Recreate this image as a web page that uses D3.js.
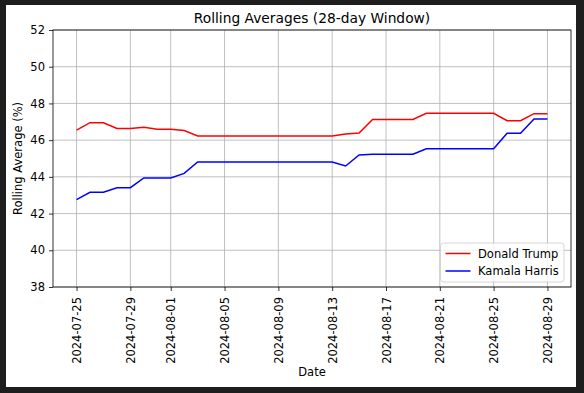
<!DOCTYPE html>
<html>
<head>
<meta charset="utf-8">
<script src="https://cdn.jsdelivr.net/npm/d3@7"></script>
<style>
  html, body { margin: 0; padding: 0; background: #1e1e1e; }
  svg { display: block; }
  text { font-family: "DejaVu Sans", sans-serif; fill: #000; }
</style>
</head>
<body>
<svg id="chart"></svg>
<script>
const dates = d3.timeDays(new Date(2024, 6, 25), new Date(2024, 7, 30))
const trump = [46.55, 46.95, 46.95, 46.64, 46.64, 46.70, 46.59, 46.59, 46.52, 46.23,
  46.23, 46.23, 46.23, 46.23, 46.23, 46.23, 46.23, 46.23, 46.23, 46.23,
  46.33, 46.39, 47.13, 47.13, 47.13, 47.13, 47.46, 47.46, 47.46, 47.46,
  47.46, 47.46, 47.06, 47.06, 47.44, 47.44]
const harris = [42.76, 43.16, 43.16, 43.41, 43.41, 43.94, 43.94, 43.94, 44.19, 44.81,
  44.81, 44.81, 44.81, 44.81, 44.81, 44.81, 44.81, 44.81, 44.81, 44.81,
  44.59, 45.19, 45.23, 45.23, 45.23, 45.23, 45.53, 45.53, 45.53, 45.53,
  45.53, 45.53, 46.37, 46.37, 47.15, 47.15]
const yTicks = [38, 40, 42, 44, 46, 48, 50, 52]
const xTickDates = ['2024-07-25', '2024-07-29', '2024-08-01', '2024-08-05', '2024-08-09',
  '2024-08-13', '2024-08-17', '2024-08-21', '2024-08-25', '2024-08-29']
const seriesNames = ['Donald Trump', 'Kamala Harris']
const seriesColors = ['#ff0000', '#0000ff']

const width = 584, height = 393
const margin = { top: 30, right: 13, bottom: 106, left: 53 }
const svg = d3.select('#chart').attr('width', width).attr('height', height)

svg.append('rect').attr('x', 6).attr('y', 5).attr('width', 570).attr('height', 382).attr('fill', '#fff')

const parse = d3.timeParse('%Y-%m-%d')
const fmt = d3.timeFormat('%Y-%m-%d')
const span = dates[dates.length - 1] - dates[0]
const x = d3.scaleTime()
  .domain([new Date(+dates[0] - span * 0.05), new Date(+dates[dates.length - 1] + span * 0.05)])
  .range([margin.left, width - margin.right])
const y = d3.scaleLinear().domain([38, 52]).range([height - margin.bottom, margin.top])

const plotW = width - margin.right - margin.left
const plotH = height - margin.bottom - margin.top

// grid
const grid = svg.append('g').attr('stroke', '#b0b0b0').attr('stroke-width', 0.8)
grid.selectAll('.gx').data(xTickDates).enter().append('line')
  .attr('x1', d => x(parse(d))).attr('x2', d => x(parse(d)))
  .attr('y1', margin.top).attr('y2', height - margin.bottom)
grid.selectAll('.gy').data(yTicks).enter().append('line')
  .attr('x1', margin.left).attr('x2', width - margin.right)
  .attr('y1', d => y(d)).attr('y2', d => y(d))

// lines
const line = d3.line().x((d, i) => x(dates[i])).y(d => y(d))
;[trump, harris].forEach((vals, i) => {
  svg.append('path').datum(vals)
    .attr('fill', 'none').attr('stroke', seriesColors[i]).attr('stroke-width', 1.5)
    .attr('d', line)
})

// axes
const xAxis = svg.append('g').attr('transform', `translate(0,${height - margin.bottom})`)
  .call(d3.axisBottom(x).tickValues(xTickDates.map(parse)).tickFormat(fmt).tickSizeOuter(0).tickSize(4))
xAxis.selectAll('text')
  .attr('transform', 'rotate(-90)')
  .attr('text-anchor', 'end')
  .attr('x', -10).attr('y', 0).attr('dy', '0.35em')
  .style('font-size', '11.5px')
const yAxis = svg.append('g').attr('transform', `translate(${margin.left},0)`)
  .call(d3.axisLeft(y).tickValues(yTicks).tickSizeOuter(0).tickSize(4).tickPadding(4))
yAxis.selectAll('text').style('font-size', '11.5px')
svg.selectAll('.domain').remove()
svg.selectAll('.tick line').attr('stroke', '#000').attr('stroke-width', 0.8)

svg.append('rect').attr('x', margin.left).attr('y', margin.top)
  .attr('width', plotW).attr('height', plotH)
  .attr('fill', 'none').attr('stroke', '#000').attr('stroke-width', 0.8)

// labels
svg.append('text').attr('x', margin.left + plotW / 2).attr('y', 23)
  .attr('text-anchor', 'middle').style('font-size', '13.8px').text('Rolling Averages (28-day Window)')
svg.append('text').attr('x', margin.left + plotW / 2).attr('y', 376)
  .attr('text-anchor', 'middle').style('font-size', '11.5px').text('Date')
svg.append('text').attr('transform', `translate(22,${margin.top + plotH / 2}) rotate(-90)`)
  .attr('text-anchor', 'middle').style('font-size', '11.5px').text('Rolling Average (%)')

// legend
const lg = svg.append('g').attr('transform', 'translate(440.5,243)')
lg.append('rect').attr('width', 123.5).attr('height', 39).attr('rx', 3)
  .attr('fill', '#fff').attr('fill-opacity', 0.8).attr('stroke', '#ccc').attr('stroke-width', 0.8)
seriesNames.forEach((name, i) => {
  const yy = 10.5 + i * 17.5
  lg.append('line').attr('x1', 5).attr('x2', 30).attr('y1', yy).attr('y2', yy)
    .attr('stroke', seriesColors[i]).attr('stroke-width', 1.5)
  lg.append('text').attr('x', 37.5).attr('y', yy).attr('dy', '0.35em')
    .style('font-size', '11.5px').text(name)
})
</script>
</body>
</html>
